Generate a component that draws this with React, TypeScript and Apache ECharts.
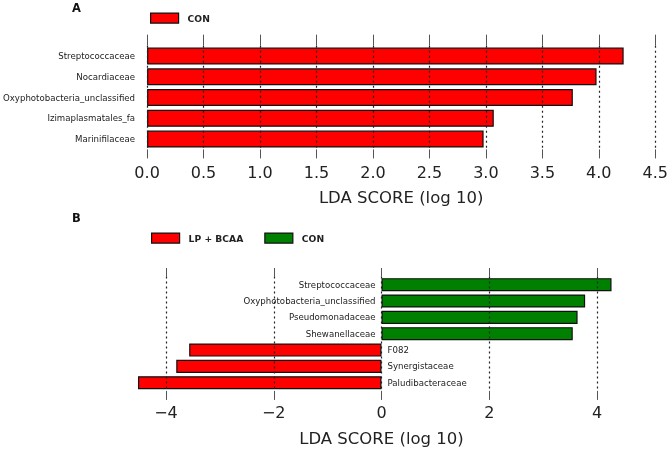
import React, { useEffect, useRef } from "react";
import * as echarts from "echarts";

const catsA = ["Streptococcaceae", "Nocardiaceae", "Oxyphotobacteria_unclassified", "Izimaplasmatales_fa", "Marinifilaceae"];
const valsA = [4.22, 3.98, 3.77, 3.07, 2.98];
const ticksA = [0, 0.5, 1, 1.5, 2, 2.5, 3, 3.5, 4, 4.5];

const catsB = ["Streptococcaceae", "Oxyphotobacteria_unclassified", "Pseudomonadaceae", "Shewanellaceae", "F082", "Synergistaceae", "Paludibacteraceae"];
const conB = [4.27, 3.78, 3.64, 3.55, null, null, null];
const lpB = [null, null, null, null, -3.57, -3.81, -4.52];
const ticksB = [-4, -2, 0, 2, 4];

const FONT = "DejaVu Sans";
const RED = "#ff0000";
const GREEN = "#008000";
const TXT = "#222";

export default function App() {
  const ref = useRef<HTMLDivElement>(null);
  useEffect(() => {
    if (!ref.current) return;
    const chart = echarts.init(ref.current, null, { renderer: "svg" });
    const barStyle = (c: string) => ({ color: c, borderColor: "#111", borderWidth: 1.2 });
    const tickStyle = { color: "#555", width: 1 };
    const splitStyle = { color: "#222", type: [2, 3] as any, width: 1.2, opacity: 1 };
    const grids = (vals: number[]) => ({
      silent: true, symbol: "none", z: 100, label: { show: false },
      lineStyle: splitStyle, emphasis: { disabled: true },
      data: vals.map((v) => ({ xAxis: v })),
    });
    chart.setOption({
      animation: false,
      textStyle: { fontFamily: FONT },
      title: [
        { text: "A", left: 72, top: 1.5, padding: 0, textStyle: { fontSize: 11.5, fontWeight: "bold", color: "#111", fontFamily: FONT } },
        { text: "B", left: 72, top: 211.5, padding: 0, textStyle: { fontSize: 11.5, fontWeight: "bold", color: "#111", fontFamily: FONT } },
      ],
      legend: [
        {
          left: 150, top: 12.5, padding: 0, itemWidth: 28, itemHeight: 10, icon: "rect",
          textStyle: { fontSize: 9.2, fontWeight: "bold", color: TXT, fontFamily: FONT, padding: [0, 0, 0, 4] },
          data: [{ name: "CON", itemStyle: barStyle(RED) }],
          selectedMode: false,
        },
        {
          left: 151, top: 232.5, padding: 0, itemWidth: 28, itemHeight: 10, icon: "rect", itemGap: 21,
          textStyle: { fontSize: 9.2, fontWeight: "bold", color: TXT, fontFamily: FONT, padding: [0, 0, 0, 4] },
          data: [
            { name: "LP + BCAA", itemStyle: barStyle(RED) },
            { name: "CON", itemStyle: barStyle(GREEN) },
          ],
          selectedMode: false,
        },
      ],
      grid: [
        { left: 146, right: 14, top: 45.7, height: 103.7 },
        { left: 128.3, right: 36.3, top: 276.5, height: 114.4 },
      ],
      xAxis: [
        {
          gridIndex: 0, type: "value", min: 0, max: 4.5, interval: 0.5, position: "bottom",
          axisLine: { show: false },
          axisTick: { show: true, length: 9, lineStyle: tickStyle },
          axisLabel: { fontSize: 16, color: TXT, margin: 15, fontFamily: FONT, formatter: (v: number) => v.toFixed(1) },
          splitLine: { show: false },
          name: "LDA SCORE (log 10)", nameLocation: "middle", nameGap: 39.5,
          nameTextStyle: { fontSize: 16.5, color: TXT, fontFamily: FONT },
        },
        {
          gridIndex: 0, type: "value", min: 0, max: 4.5, interval: 0.5, position: "top",
          axisLine: { show: false },
          axisTick: { show: true, length: 11, lineStyle: tickStyle },
          axisLabel: { show: false },
          splitLine: { show: false },
        },
        {
          gridIndex: 1, type: "value", min: -4.7, max: 4.7, position: "bottom",
          axisLine: { show: false },
          axisTick: { show: true, length: 9, lineStyle: tickStyle, customValues: ticksB },
          axisLabel: {
            fontSize: 16, color: TXT, margin: 14, fontFamily: FONT, customValues: ticksB,
            formatter: (v: number) => (v < 0 ? "\u2212" + Math.abs(v) : String(v)),
          },
          splitLine: { show: false },
          name: "LDA SCORE (log 10)", nameLocation: "middle", nameGap: 39,
          nameTextStyle: { fontSize: 16.5, color: TXT, fontFamily: FONT },
        },
        {
          gridIndex: 1, type: "value", min: -4.7, max: 4.7, position: "top",
          axisLine: { show: false },
          axisTick: { show: true, length: 8.5, lineStyle: tickStyle, customValues: ticksB },
          axisLabel: { show: false, customValues: ticksB },
          splitLine: { show: false },
        },
      ],
      yAxis: [
        {
          gridIndex: 0, type: "category", data: catsA, inverse: true,
          axisLine: { show: false }, axisTick: { show: false },
          axisLabel: { fontSize: 8.6, color: TXT, margin: 12, fontFamily: FONT },
        },
        {
          gridIndex: 1, type: "category", data: catsB, inverse: true,
          axisLine: { show: false }, axisTick: { show: false },
          axisLabel: { show: false },
        },
      ],
      series: [
        {
          name: "CON", type: "bar", xAxisIndex: 0, yAxisIndex: 0, data: valsA, z: 1,
          barWidth: "82%", itemStyle: barStyle(RED),
          markLine: grids(ticksA),
        },
        {
          name: "CON", type: "bar", xAxisIndex: 2, yAxisIndex: 1, data: conB, z: 1,
          barWidth: "80%", barGap: "-100%", itemStyle: barStyle(GREEN),
          label: {
            show: true, position: "left", distance: 6, fontSize: 8.6, color: TXT, fontFamily: FONT,
            formatter: (p: any) => catsB[p.dataIndex],
          },
          markLine: grids(ticksB),
        },
        {
          name: "LP + BCAA", type: "bar", xAxisIndex: 2, yAxisIndex: 1, data: lpB, z: 1,
          barWidth: "80%", barGap: "-100%", itemStyle: barStyle(RED),
          label: {
            show: true, position: "right", distance: 6, fontSize: 8.6, color: TXT, fontFamily: FONT,
            formatter: (p: any) => catsB[p.dataIndex],
          },
        },
      ],
    });
    return () => chart.dispose();
  }, []);
  return <div ref={ref} style={{ position: "fixed", left: 0, top: 0, width: 671, height: 450 }} />;
}
